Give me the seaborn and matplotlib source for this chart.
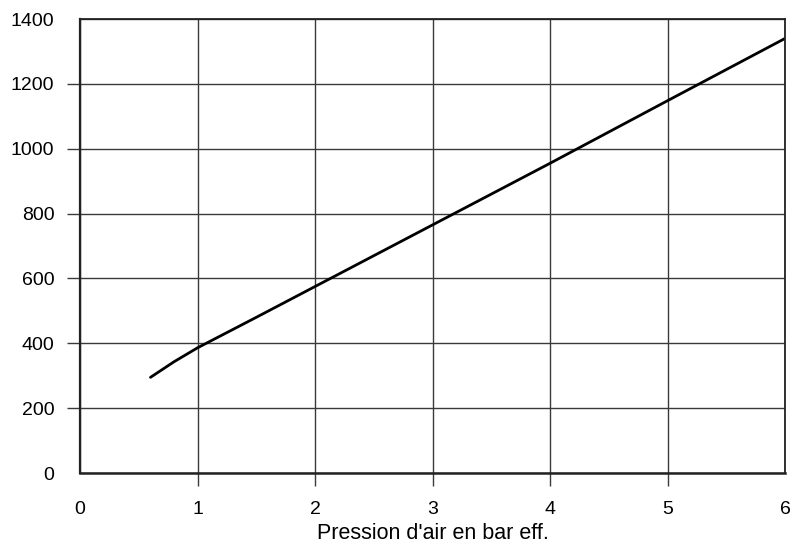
import matplotlib
matplotlib.use("Agg")
import matplotlib.pyplot as plt
import seaborn as sns
import pandas as pd

pression = [0.6, 0.8, 1.0, 1.5, 2.0, 3.0, 4.0, 5.0, 6.0]
debit = [295, 343, 386, 480, 575, 765, 955, 1148, 1340]
x_ticks = [0, 1, 2, 3, 4, 5, 6]
y_ticks = [0, 200, 400, 600, 800, 1000, 1200, 1400]
x_label = "Pression d'air en bar eff."

sns.set_style("white")
plt.rcParams['font.family'] = ['Liberation Sans', 'DejaVu Sans']
plt.rcParams['text.color'] = 'black'
plt.rcParams['xtick.color'] = 'black'
plt.rcParams['ytick.color'] = 'black'
plt.rcParams['axes.labelcolor'] = 'black'

df = pd.DataFrame({"x": pression, "y": debit})

fig = plt.figure(figsize=(7.93, 5.45), dpi=100)
ax = fig.add_axes([80/793, 72/545, 705/793, 454/545])
sns.lineplot(data=df, x="x", y="y", ax=ax, color="black", linewidth=2.0)

ax.set_xlim(0, 6)
ax.set_ylim(0, 1400)
ax.set_xticks(x_ticks)
ax.set_yticks(y_ticks)
ax.set_xticklabels([str(t) for t in x_ticks])
ax.set_yticklabels([str(t) for t in y_ticks])
ax.grid(True, color="#3a3a3a", linewidth=1.0)
ax.set_axisbelow(True)
ax.tick_params(axis="both", labelsize=14, length=9.5, width=1.0, color="#3a3a3a",
               labelcolor="black", direction="out", pad=9, left=True, bottom=True)
ax.tick_params(axis="x", pad=11)
for t in (ax.xaxis.get_major_ticks()[0], ax.xaxis.get_major_ticks()[-1],
          ax.yaxis.get_major_ticks()[0], ax.yaxis.get_major_ticks()[-1]):
    t.tick1line.set_visible(False)
for s in ax.spines.values():
    s.set_visible(True)
    s.set_color("#222222")
    s.set_linewidth(1.3)
ax.spines["left"].set_linewidth(1.6)
ax.spines["bottom"].set_linewidth(1.8)
ax.set_xlabel(x_label, fontsize=15.5, labelpad=3, color="black")
ax.set_ylabel("")

fig.savefig("out.png", dpi=100)
